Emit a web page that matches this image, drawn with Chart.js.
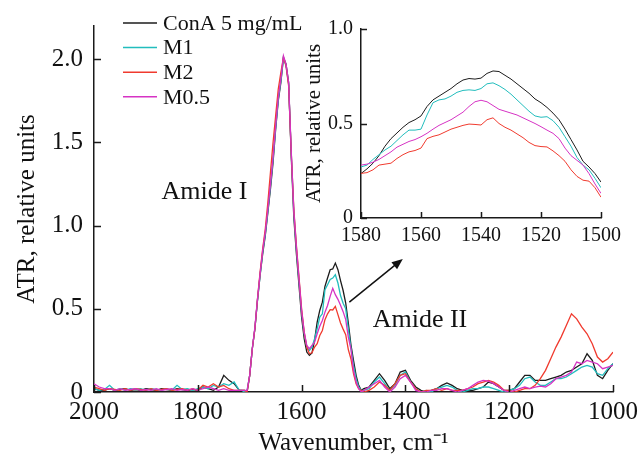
<!DOCTYPE html>
<html>
<head>
<meta charset="utf-8">
<script src="https://cdn.jsdelivr.net/npm/chart.js@4.4.1/dist/chart.umd.min.js"></script>
<style>
  html, body { margin: 0; padding: 0; background: #fff; }
  #wrap { position: relative; width: 643px; height: 464px; }
  #mainChart { position: absolute; left: 0; top: 0; }
  #insetChart { position: absolute; left: 290px; top: 0; }
</style>
</head>
<body>
<div id="wrap">
  <canvas id="mainChart" width="643" height="464"></canvas>
  <canvas id="insetChart" width="353" height="260"></canvas>
</div>
<script>
// wavenumber grid of the full spectrum, cm-1
const wavenumbers = [
  2000, 1990, 1980, 1970, 1960, 1950, 1940, 1930, 1920, 1910,
  1900, 1890, 1880, 1870, 1860, 1850, 1840, 1830, 1820, 1810,
  1800, 1790, 1780, 1770, 1760, 1750, 1740, 1730, 1720,
  1715, 1710, 1705, 1700, 1695, 1690, 1685, 1680, 1675, 1670,
  1665, 1660, 1655, 1650, 1645, 1640, 1635, 1630, 1625, 1620,
  1615, 1610, 1605, 1600, 1595, 1590, 1585, 1580, 1575, 1570,
  1565, 1560, 1555, 1550, 1545, 1540, 1535, 1530, 1525, 1520,
  1515, 1510, 1505, 1500, 1495, 1490, 1485, 1480,
  1470, 1460, 1450, 1440, 1430, 1420, 1410, 1400, 1390, 1380,
  1370, 1360, 1350, 1340, 1330, 1320, 1310, 1300, 1290, 1280,
  1270, 1260, 1250, 1240, 1230, 1220, 1210, 1200, 1190, 1180,
  1170, 1160, 1150, 1140, 1130, 1120, 1110, 1100, 1090, 1080,
  1070, 1060, 1050, 1040, 1030, 1020, 1010, 1000
];

const conA = [
  0.02, 0.01, 0.01, 0.02, 0.01, 0.015, 0.02, 0.01, 0.015, 0.01,
  0.02, 0.015, 0.01, 0.02, 0.015, 0.01, 0.02, 0.015, 0.01, 0.015,
  0.01, 0.03, 0.02, 0.01, 0.03, 0.1, 0.07, 0.05, 0.01,
  0.01, 0.01, 0.0, 0.1, 0.26, 0.38, 0.55, 0.7, 0.83, 0.94,
  1.08, 1.22, 1.38, 1.58, 1.75, 1.86, 2.01, 1.97, 1.86, 1.42,
  1.05, 0.83, 0.64, 0.45, 0.32, 0.24, 0.22, 0.235, 0.31, 0.42,
  0.49, 0.54, 0.635, 0.685, 0.735, 0.74, 0.775, 0.735, 0.67, 0.61,
  0.535, 0.415, 0.285, 0.19, 0.1, 0.04, 0.01, 0.02,
  0.03, 0.07, 0.11, 0.07, 0.02, 0.05, 0.12, 0.13, 0.07, 0.03,
  0.01, 0.0, 0.01, 0.02, 0.04, 0.055, 0.04, 0.02, 0.01, 0.01,
  0.01, 0.02, 0.03, 0.06, 0.05, 0.03, 0.01, 0.01, 0.02, 0.06,
  0.1, 0.1, 0.07, 0.07, 0.07, 0.08, 0.09, 0.1, 0.12, 0.13,
  0.15, 0.17, 0.23, 0.19, 0.1, 0.08, 0.13, 0.17
];

const m1 = [
  0.02, 0.01, 0.015, 0.04, 0.01, 0.02, 0.01, 0.02, 0.015, 0.02,
  0.01, 0.02, 0.015, 0.01, 0.02, 0.01, 0.04, 0.015, 0.02, 0.01,
  0.02, 0.03, 0.02, 0.04, 0.03, 0.05, 0.04, 0.06, 0.01,
  0.01, 0.0, 0.01, 0.1, 0.26, 0.38, 0.55, 0.7, 0.84, 0.95,
  1.09, 1.24, 1.4, 1.59, 1.76, 1.87, 2.01, 1.96, 1.85, 1.44,
  1.08, 0.86, 0.67, 0.48, 0.35, 0.27, 0.25, 0.27, 0.32, 0.38,
  0.45, 0.47, 0.615, 0.645, 0.676, 0.685, 0.705, 0.655, 0.58, 0.533,
  0.5, 0.38, 0.265, 0.16, 0.08, 0.03, 0.01, 0.01,
  0.02, 0.06, 0.09, 0.05, 0.01, 0.04, 0.1, 0.12, 0.06, 0.02,
  0.0, 0.01, 0.0, 0.02, 0.03, 0.04, 0.03, 0.01, 0.0, 0.01,
  0.02, 0.02, 0.03, 0.03, 0.02, 0.01, 0.0, 0.01, 0.02, 0.04,
  0.08, 0.09, 0.06, 0.04, 0.04, 0.06, 0.08, 0.08, 0.09, 0.11,
  0.13, 0.15, 0.16, 0.15, 0.11, 0.1, 0.14, 0.17
];

const m2 = [
  0.03, 0.02, 0.01, 0.02, 0.015, 0.01, 0.02, 0.01, 0.02, 0.015,
  0.01, 0.02, 0.01, 0.015, 0.02, 0.01, 0.015, 0.02, 0.01, 0.02,
  0.01, 0.04, 0.03, 0.05, 0.03, 0.04, 0.02, 0.01, 0.01,
  0.01, 0.01, 0.0, 0.1, 0.26, 0.38, 0.56, 0.72, 0.86, 0.98,
  1.14, 1.32, 1.5, 1.66, 1.82, 1.92, 2.01, 1.96, 1.84, 1.44,
  1.1, 0.88, 0.69, 0.5, 0.36, 0.27, 0.23, 0.236, 0.27, 0.29,
  0.34, 0.37, 0.435, 0.47, 0.495, 0.493, 0.515, 0.465, 0.415, 0.378,
  0.345, 0.255, 0.2, 0.11, 0.05, 0.02, 0.01, 0.0,
  0.01, 0.03, 0.06, 0.04, 0.01, 0.05, 0.1, 0.11, 0.06, 0.02,
  0.0, 0.01, 0.01, 0.02, 0.01, 0.02, 0.01, 0.01, 0.01, 0.02,
  0.03, 0.05, 0.06, 0.07, 0.06, 0.04, 0.01, 0.01, 0.0, 0.01,
  0.02, 0.02, 0.04, 0.08, 0.13, 0.2, 0.27, 0.33, 0.4, 0.47,
  0.44, 0.39, 0.35, 0.29, 0.21, 0.18, 0.2, 0.24
];

const m05 = [
  0.05, 0.03, 0.02, 0.02, 0.01, 0.02, 0.01, 0.015, 0.02, 0.01,
  0.015, 0.01, 0.02, 0.01, 0.015, 0.02, 0.01, 0.015, 0.01, 0.02,
  0.01, 0.02, 0.03, 0.02, 0.01, 0.02, 0.01, 0.01, 0.01,
  0.01, 0.01, 0.01, 0.1, 0.26, 0.39, 0.56, 0.71, 0.85, 0.96,
  1.1, 1.25, 1.41, 1.6, 1.77, 1.88, 2.02, 1.97, 1.86, 1.45,
  1.09, 0.87, 0.68, 0.49, 0.36, 0.28, 0.26, 0.28, 0.3, 0.35,
  0.395, 0.43, 0.48, 0.52, 0.575, 0.623, 0.585, 0.557, 0.522, 0.483,
  0.435, 0.33, 0.26, 0.13, 0.06, 0.02, 0.0, 0.01,
  0.03, 0.05, 0.07, 0.03, 0.0, 0.03, 0.08, 0.1, 0.06, 0.01,
  0.0, 0.0, 0.01, 0.01, 0.02, 0.02, 0.01, 0.0, 0.01, 0.02,
  0.04, 0.06, 0.07, 0.065, 0.05, 0.03, 0.01, 0.0, 0.01, 0.02,
  0.03, 0.02, 0.03, 0.035, 0.03, 0.05, 0.08, 0.09, 0.1, 0.12,
  0.18, 0.17, 0.19, 0.18, 0.17, 0.14, 0.15, 0.16
];

// zoomed amide II region (inset)
const insetWavenumbers = [
  1580, 1578, 1576, 1574, 1572, 1570, 1568, 1566, 1564, 1562,
  1560, 1558, 1556, 1554, 1552, 1550, 1548, 1546, 1544, 1542,
  1540, 1538, 1536, 1534, 1532, 1530, 1528, 1526, 1524, 1522,
  1520, 1518, 1516, 1514, 1512, 1510, 1508, 1506, 1504, 1502, 1500
];
const insetConA = [
  0.235, 0.26, 0.29, 0.33, 0.38, 0.42, 0.45, 0.48, 0.505, 0.52,
  0.54, 0.59, 0.625, 0.645, 0.665, 0.685, 0.71, 0.73, 0.738, 0.735,
  0.74, 0.765, 0.778, 0.775, 0.755, 0.735, 0.71, 0.685, 0.66, 0.63,
  0.61, 0.585, 0.555, 0.52, 0.47, 0.415, 0.36, 0.3, 0.27, 0.235, 0.19
];
const insetM1 = [
  0.27, 0.28, 0.31, 0.335, 0.36, 0.38, 0.41, 0.44, 0.465, 0.465,
  0.47, 0.545, 0.61, 0.625, 0.63, 0.645, 0.665, 0.675, 0.678, 0.675,
  0.685, 0.71, 0.715, 0.7, 0.68, 0.655, 0.625, 0.595, 0.565, 0.54,
  0.533, 0.536, 0.515, 0.48, 0.43, 0.38, 0.32, 0.28, 0.255, 0.21, 0.16
];
const insetM2 = [
  0.236, 0.24, 0.255, 0.28, 0.285, 0.29, 0.315, 0.335, 0.35, 0.357,
  0.37, 0.42, 0.432, 0.44, 0.455, 0.47, 0.48, 0.49, 0.497, 0.495,
  0.492, 0.52, 0.53, 0.5, 0.48, 0.465, 0.445, 0.425, 0.4, 0.383,
  0.378, 0.376, 0.355, 0.33, 0.3, 0.255, 0.22, 0.2, 0.195, 0.16, 0.11
];
const insetM05 = [
  0.28, 0.285, 0.295, 0.31, 0.33, 0.35, 0.375, 0.39, 0.405, 0.415,
  0.43, 0.448, 0.47, 0.49, 0.505, 0.52, 0.54, 0.56, 0.59, 0.615,
  0.623, 0.615, 0.595, 0.575, 0.565, 0.555, 0.545, 0.53, 0.515, 0.5,
  0.483, 0.465, 0.448, 0.42, 0.37, 0.33, 0.305, 0.28, 0.235, 0.18, 0.13
];

const seriesNames = ["ConA 5 mg/mL", "M1", "M2", "M0.5"];
const seriesColors = ["#1c1c1c", "#22bdbd", "#f03a2e", "#d633c4"];
const seriesOrder = [3, 2, 1, 0]; // magenta drawn on top

const mainXTicks = [2000, 1800, 1600, 1400, 1200, 1000];
const mainYTicks = [0, 0.5, 1.0, 1.5, 2.0];
const insetXTicks = [1580, 1560, 1540, 1520, 1500];
const insetYTicks = [0, 0.5, 1.0];

const serif = "'Liberation Serif', 'Times New Roman', serif";
const axisColor = "#1a1a1a";

const yLabel = (v) => (v === 0 ? "0" : v.toFixed(1));
const xLabel = (v) => String(v);

function makeSets(xs, list, width) {
  return list.map((ys, i) => ({
    label: seriesNames[i],
    data: xs.map((x, j) => ({ x: x, y: ys[j] })),
    borderColor: seriesColors[i],
    borderWidth: width,
    pointRadius: 0,
    fill: false,
    order: seriesOrder[i],
  }));
}

// ticks pointing into the plot
const insideTicks = {
  id: "insideTicks",
  afterDraw(chart, args, opts) {
    const { ctx, chartArea } = chart;
    const sx = chart.scales.x;
    const sy = chart.scales.y;
    ctx.save();
    ctx.strokeStyle = axisColor;
    ctx.lineWidth = 1.5;
    ctx.beginPath();
    sx.ticks.forEach((t) => {
      const px = Math.round(sx.getPixelForValue(t.value)) + 0.5;
      ctx.moveTo(px, chartArea.bottom);
      ctx.lineTo(px, chartArea.bottom - opts.length);
    });
    sy.ticks.forEach((t) => {
      const py = Math.round(sy.getPixelForValue(t.value)) + 0.5;
      ctx.moveTo(chartArea.left, py);
      ctx.lineTo(chartArea.left + opts.length, py);
    });
    ctx.stroke();
    ctx.restore();
  },
};

// legend, amide labels and the arrow to the inset
const mainNotes = {
  id: "mainNotes",
  afterDraw(chart) {
    const { ctx } = chart;
    const sx = chart.scales.x;
    const sy = chart.scales.y;
    ctx.save();
    ctx.fillStyle = "#111";
    ctx.font = "26px " + serif;
    ctx.textBaseline = "alphabetic";
    ctx.fillText("Amide I", sx.getPixelForValue(1870), sy.getPixelForValue(1.16));
    ctx.fillText("Amide II", sx.getPixelForValue(1463), sy.getPixelForValue(0.39));

    const x0 = sx.getPixelForValue(1508), y0 = sy.getPixelForValue(0.54);
    const x1 = sx.getPixelForValue(1405), y1 = sy.getPixelForValue(0.8);
    const ang = Math.atan2(y1 - y0, x1 - x0);
    ctx.strokeStyle = "#111";
    ctx.lineWidth = 1.5;
    ctx.beginPath();
    ctx.moveTo(x0, y0);
    ctx.lineTo(x1 - 8 * Math.cos(ang), y1 - 8 * Math.sin(ang));
    ctx.stroke();
    ctx.beginPath();
    ctx.moveTo(x1, y1);
    ctx.lineTo(x1 - 11 * Math.cos(ang) + 4.5 * Math.sin(ang), y1 - 11 * Math.sin(ang) - 4.5 * Math.cos(ang));
    ctx.lineTo(x1 - 11 * Math.cos(ang) - 4.5 * Math.sin(ang), y1 - 11 * Math.sin(ang) + 4.5 * Math.cos(ang));
    ctx.closePath();
    ctx.fillStyle = "#111";
    ctx.fill();

    ctx.font = "22px " + serif;
    ctx.textBaseline = "middle";
    chart.data.datasets.forEach((ds, i) => {
      const ly = 23 + i * 24.6;
      ctx.strokeStyle = ds.borderColor;
      ctx.lineWidth = 1.5;
      ctx.beginPath();
      ctx.moveTo(123, ly);
      ctx.lineTo(157, ly);
      ctx.stroke();
      ctx.fillStyle = "#111";
      ctx.fillText(ds.label, 163, ly + 1);
    });
    ctx.restore();
  },
};

new Chart(document.getElementById("mainChart"), {
  type: "line",
  data: { datasets: makeSets(wavenumbers, [conA, m1, m2, m05], 1.3) },
  options: {
    responsive: false,
    animation: false,
    devicePixelRatio: 1,
    layout: { padding: { left: 0, top: 18, right: 26, bottom: 0 } },
    elements: { line: { tension: 0 } },
    plugins: { legend: { display: false }, tooltip: { enabled: false }, insideTicks: { length: 7 } },
    scales: {
      x: {
        type: "linear",
        reverse: true,
        min: 1000,
        max: 2000,
        afterBuildTicks: (s) => { s.ticks = mainXTicks.map((v) => ({ value: v })); },
        afterFit: (s) => { s.height = 72; },
        grid: { display: false, drawTicks: false },
        border: { display: true, color: axisColor, width: 1.5 },
        ticks: { color: "#111", font: { family: serif, size: 25 }, padding: 5, maxRotation: 0, autoSkip: false, callback: xLabel },
        title: { display: true, text: "Wavenumber, cm⁻¹", color: "#111", font: { family: serif, size: 25 }, padding: { top: 0, bottom: 6 } },
      },
      y: {
        min: 0,
        max: 2.2,
        afterBuildTicks: (s) => { s.ticks = mainYTicks.map((v) => ({ value: v })); },
        afterFit: (s) => { s.width = 94; },
        grid: { display: false, drawTicks: false },
        border: { display: true, color: axisColor, width: 1.5 },
        ticks: { color: "#111", font: { family: serif, size: 25 }, padding: 11, callback: yLabel },
        title: { display: true, text: "ATR, relative units", color: "#111", font: { family: serif, size: 25 }, padding: { top: 12, bottom: 0 } },
      },
    },
  },
  plugins: [insideTicks, mainNotes],
});

new Chart(document.getElementById("insetChart"), {
  type: "line",
  data: { datasets: makeSets(insetWavenumbers, [insetConA, insetM1, insetM2, insetM05], 1) },
  options: {
    responsive: false,
    animation: false,
    devicePixelRatio: 1,
    layout: { padding: { left: 0, top: 29, right: 42, bottom: 0 } },
    elements: { line: { tension: 0 } },
    plugins: { legend: { display: false }, tooltip: { enabled: false }, insideTicks: { length: 6 } },
    scales: {
      x: {
        type: "linear",
        reverse: true,
        min: 1500,
        max: 1580,
        afterBuildTicks: (s) => { s.ticks = insetXTicks.map((v) => ({ value: v })); },
        afterFit: (s) => { s.height = 42; },
        grid: { display: false, drawTicks: false },
        border: { display: true, color: axisColor, width: 1.5 },
        ticks: { color: "#111", font: { family: serif, size: 20 }, padding: 6, maxRotation: 0, autoSkip: false, callback: xLabel },
      },
      y: {
        min: 0,
        max: 1,
        afterBuildTicks: (s) => { s.ticks = insetYTicks.map((v) => ({ value: v })); },
        afterFit: (s) => { s.width = 71; },
        grid: { display: false, drawTicks: false },
        border: { display: true, color: axisColor, width: 1.5 },
        ticks: { color: "#111", font: { family: serif, size: 20 }, padding: 8, callback: yLabel },
        title: { display: true, text: "ATR, relative units", color: "#111", font: { family: serif, size: 21 }, padding: { top: 12, bottom: 0 } },
      },
    },
  },
  plugins: [insideTicks],
});
</script>
</body>
</html>
